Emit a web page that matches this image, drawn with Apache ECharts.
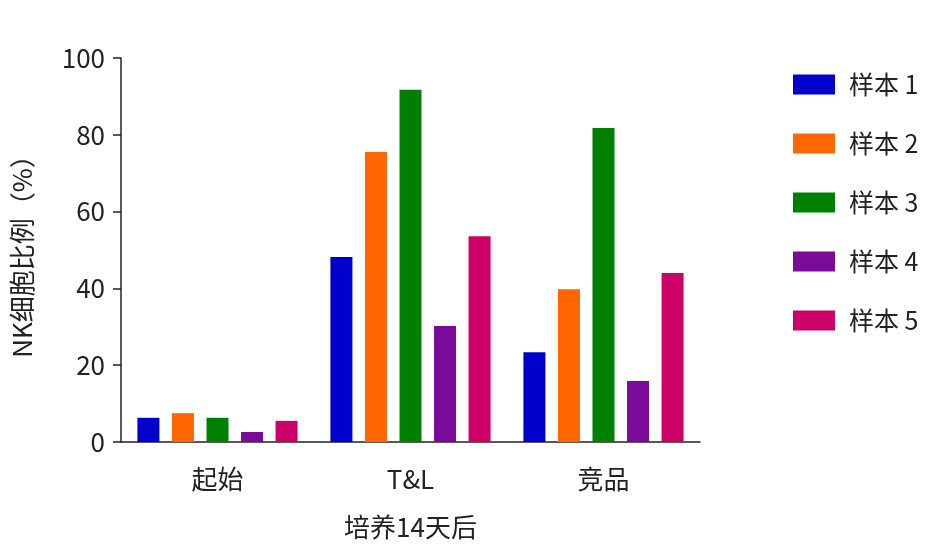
<!DOCTYPE html>
<html>
<head>
<meta charset="utf-8">
<script src="https://cdn.jsdelivr.net/npm/echarts@6/dist/echarts.min.js"></script>
<style>html,body{margin:0;padding:0;background:#fff;}#chart{width:942px;height:557px;}</style>
</head>
<body>
<div id="chart"></div>
<script>
const categories = ['起始', 'T&L', '竞品'];
const seriesNames = ['样本 1', '样本 2', '样本 3', '样本 4', '样本 5'];
const sample1 = [6.3, 48.2, 23.4];
const sample2 = [7.5, 75.5, 39.8];
const sample3 = [6.3, 91.7, 81.8];
const sample4 = [2.6, 30.2, 15.9];
const sample5 = [5.5, 53.6, 44.0];
const yTicks = [0, 20, 40, 60, 80, 100];
const colors = ['#0000CC', '#FF6600', '#008000', '#7A0A9A', '#CC0066'];
const allData = [sample1, sample2, sample3, sample4, sample5];
const font = '"Noto Sans CJK SC", "Noto Sans", sans-serif';

const chart = echarts.init(document.getElementById('chart'));
chart.setOption({
  animation: false,
  textStyle: { fontFamily: font },
  grid: { left: 121, right: 242, top: 58, bottom: 115 },
  legend: {
    orient: 'vertical',
    left: 788,
    top: 67,
    itemWidth: 42,
    itemHeight: 20,
    itemGap: 34,
    icon: 'rect',
    textStyle: { fontSize: 25, color: '#222', fontFamily: font, padding: [0, 0, 0, 9] },
    data: seriesNames
  },
  xAxis: {
    type: 'category',
    data: categories,
    name: '培养14天后',
    nameLocation: 'middle',
    nameGap: 72,
    nameTextStyle: { fontSize: 26, color: '#222', fontFamily: font },
    axisLine: { lineStyle: { color: '#222', width: 1.5 } },
    axisTick: { alignWithLabel: true, length: 10, lineStyle: { color: '#222', width: 1.5 } },
    axisLabel: { fontSize: 26, color: '#222', margin: 24, fontFamily: font },
    splitLine: { show: false }
  },
  yAxis: {
    type: 'value',
    min: yTicks[0],
    max: yTicks[yTicks.length - 1],
    interval: 20,
    name: 'NK细胞比例（%）',
    nameLocation: 'middle',
    nameGap: 86,
    nameRotate: 90,
    nameTextStyle: { fontSize: 26, color: '#222', fontFamily: font },
    axisLine: { show: true, lineStyle: { color: '#222', width: 1.5 } },
    axisTick: { show: true, length: 8, lineStyle: { color: '#222', width: 1.5 } },
    axisLabel: { fontSize: 26, color: '#222', margin: 16, fontFamily: font },
    splitLine: { show: false }
  },
  series: seriesNames.map((n, i) => ({
    name: n,
    type: 'bar',
    data: allData[i],
    barWidth: 22,
    barGap: '57%',
    itemStyle: { color: colors[i] }
  }))
});
</script>
</body>
</html>
